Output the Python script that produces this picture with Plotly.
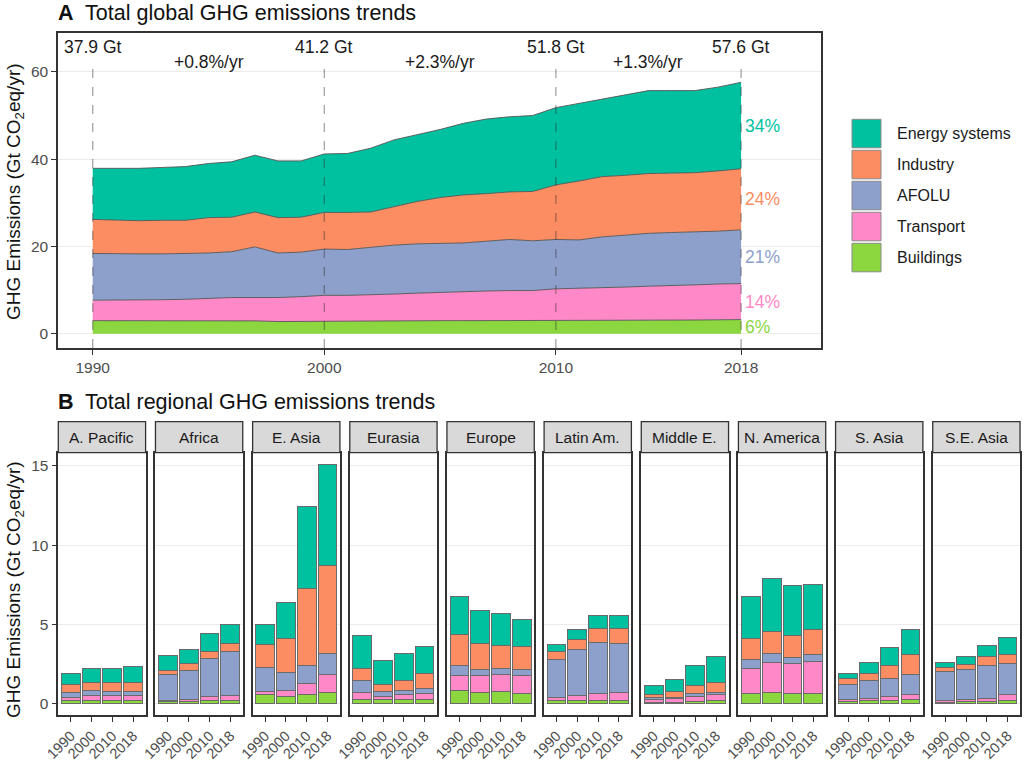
import plotly.graph_objects as go

# ---------------- DATA ----------------
years = list(range(1990, 2019))

buildings = [3.0, 3.0, 2.95, 2.95, 2.9, 2.9, 2.95, 2.95, 2.8, 2.85, 2.9, 2.9, 2.9, 2.95, 3.0,
             3.0, 3.0, 3.0, 3.0, 3.0, 3.05, 3.05, 3.05, 3.1, 3.1, 3.15, 3.15, 3.2, 3.25]
transport = [4.7, 4.7, 4.75, 4.85, 5.0, 5.2, 5.35, 5.35, 5.5, 5.65, 5.9, 5.9, 6.0, 6.15, 6.3,
             6.5, 6.6, 6.8, 6.9, 6.9, 7.25, 7.35, 7.45, 7.6, 7.8, 7.85, 8.05, 8.2, 8.25]
afolu = [10.7, 10.6, 10.6, 10.5, 10.5, 10.4, 10.5, 11.6, 10.2, 10.2, 10.6, 10.5, 10.9, 11.2, 11.3,
         11.2, 11.2, 11.4, 11.7, 11.4, 11.3, 11.1, 11.7, 11.9, 12.1, 12.2, 12.1, 12.1, 12.3]
industry = [7.8, 7.7, 7.6, 7.7, 7.6, 8.1, 7.9, 8.0, 8.1, 8.0, 8.4, 8.5, 8.1, 8.8, 9.7,
            10.5, 11.0, 10.9, 10.9, 11.3, 12.5, 13.5, 13.8, 13.7, 13.7, 13.6, 13.6, 13.8, 14.0]
energy = [11.7, 11.9, 12.0, 12.1, 12.3, 12.4, 12.7, 13.0, 13.0, 12.9, 13.4, 13.5, 14.6, 15.3, 15.3,
          15.6, 16.4, 17.1, 17.2, 17.4, 17.7, 17.8, 17.8, 18.5, 19.0, 18.9, 18.8, 19.2, 19.8]

milestone_years = [1990, 2000, 2010, 2018]

sector_names = ["Energy systems", "Industry", "AFOLU", "Transport", "Buildings"]
sector_colors = ["#00C19F", "#FC8D62", "#8DA0CB", "#FF88C8", "#8CD640"]

regions = ["A. Pacific", "Africa", "E. Asia", "Eurasia", "Europe", "Latin Am.",
           "Middle E.", "N. America", "S. Asia", "S.E. Asia"]
bar_years = ["1990", "2000", "2010", "2018"]

reg_buildings = {
    "A. Pacific": [0.15, 0.18, 0.17, 0.17], "Africa": [0.1, 0.1, 0.15, 0.2],
    "E. Asia": [0.57, 0.42, 0.53, 0.7], "Eurasia": [0.27, 0.21, 0.21, 0.25],
    "Europe": [0.78, 0.7, 0.74, 0.63], "Latin Am.": [0.15, 0.15, 0.17, 0.17],
    "Middle E.": [0.07, 0.08, 0.12, 0.15], "N. America": [0.63, 0.7, 0.63, 0.63],
    "S. Asia": [0.1, 0.15, 0.17, 0.25], "S.E. Asia": [0.08, 0.1, 0.1, 0.15]}
reg_transport = {
    "A. Pacific": [0.22, 0.33, 0.3, 0.3], "Africa": [0.1, 0.15, 0.25, 0.3],
    "E. Asia": [0.2, 0.36, 0.73, 1.13], "Eurasia": [0.4, 0.25, 0.32, 0.34],
    "Europe": [0.95, 1.05, 1.05, 1.12], "Latin Am.": [0.21, 0.33, 0.46, 0.53],
    "Middle E.": [0.14, 0.2, 0.33, 0.42], "N. America": [1.58, 1.87, 1.86, 2.0],
    "S. Asia": [0.11, 0.17, 0.25, 0.32], "S.E. Asia": [0.09, 0.17, 0.22, 0.38]}
reg_afolu = {
    "A. Pacific": [0.3, 0.33, 0.3, 0.3], "Africa": [1.6, 1.85, 2.45, 2.75],
    "E. Asia": [1.48, 1.18, 1.1, 1.33], "Eurasia": [0.76, 0.28, 0.25, 0.32],
    "Europe": [0.63, 0.36, 0.38, 0.36], "Latin Am.": [2.38, 2.89, 3.23, 3.09],
    "Middle E.": [0.15, 0.1, 0.15, 0.13], "N. America": [0.53, 0.59, 0.4, 0.47],
    "S. Asia": [0.99, 1.11, 1.12, 1.26], "S.E. Asia": [1.87, 1.84, 2.1, 1.96]}
reg_industry = {
    "A. Pacific": [0.5, 0.5, 0.55, 0.55], "Africa": [0.3, 0.4, 0.45, 0.55],
    "E. Asia": [1.48, 2.15, 4.91, 5.58], "Eurasia": [0.78, 0.46, 0.65, 0.99],
    "Europe": [2.0, 1.68, 1.48, 1.47], "Latin Am.": [0.53, 0.68, 0.88, 0.95],
    "Middle E.": [0.17, 0.36, 0.51, 0.61], "N. America": [1.33, 1.37, 1.37, 1.58],
    "S. Asia": [0.34, 0.47, 0.88, 1.23], "S.E. Asia": [0.24, 0.36, 0.53, 0.61]}
reg_energy = {
    "A. Pacific": [0.73, 0.84, 0.9, 0.98], "Africa": [0.9, 0.9, 1.1, 1.15],
    "E. Asia": [1.26, 2.25, 5.2, 6.33], "Eurasia": [2.05, 1.48, 1.69, 1.72],
    "Europe": [2.42, 2.07, 2.0, 1.73], "Latin Am.": [0.46, 0.63, 0.78, 0.84],
    "Middle E.": [0.61, 0.78, 1.25, 1.62], "N. America": [2.71, 3.33, 3.16, 2.84],
    "S. Asia": [0.36, 0.69, 1.1, 1.62], "S.E. Asia": [0.31, 0.48, 0.7, 1.05]}

# ---------------- HELPERS ----------------
W, H = 1024, 761
def px(x): return x / W
def py(y): return 1 - y / H

FONT = "Liberation Sans, Arial, sans-serif"
TICK_COLOR = "#4D4D4D"
FRAME = "#333333"
color_of = dict(zip(sector_names, sector_colors))

global_series = {"Energy systems": energy, "Industry": industry, "AFOLU": afolu,
                 "Transport": transport, "Buildings": buildings}
regional_series = {"Energy systems": reg_energy, "Industry": reg_industry, "AFOLU": reg_afolu,
                   "Transport": reg_transport, "Buildings": reg_buildings}
stack_order = list(reversed(sector_names))  # bottom -> top

fig = go.Figure()

# ---------------- PANEL A: stacked areas ----------------
for name in stack_order:
    fig.add_trace(go.Scatter(
        x=years, y=global_series[name], stackgroup="g", mode="lines",
        line=dict(color="#555555", width=0.9), fillcolor=color_of[name],
        xaxis="x", yaxis="y", showlegend=False, hoverinfo="skip"))

totals = [round(sum(global_series[n][i] for n in sector_names), 1) for i in range(len(years))]
YMIN_A, YMAX_A = -3.26, 68.9

shapes = []
annotations = []
for yr in milestone_years:
    shapes.append(dict(type="line", xref="x", yref="y", x0=yr, x1=yr, y0=YMIN_A, y1=62.5,
                       line=dict(color="rgba(40,40,40,0.45)", width=1.2, dash="dash"), layer="above"))
    annotations.append(dict(x=yr, y=65.6, xref="x", yref="y", text=f"{totals[years.index(yr)]:.1f} Gt",
                            showarrow=False, font=dict(size=17.5, color="#1A1A1A"), xanchor="center", yanchor="middle"))
for a, b in zip(milestone_years[:-1], milestone_years[1:]):
    ta, tb = totals[years.index(a)], totals[years.index(b)]
    rate = ((tb / ta) ** (1 / (b - a)) - 1) * 100
    annotations.append(dict(x=(a + b) / 2, y=62.3, xref="x", yref="y", text=f"+{rate:.1f}%/yr",
                            showarrow=False, font=dict(size=17.5, color="#1A1A1A"), xanchor="center", yanchor="middle"))

# share labels at the last year
last = len(years) - 1
cum = 0.0
for name in stack_order:
    v = global_series[name][last]
    share = v / totals[last] * 100
    annotations.append(dict(x=years[last] + 0.1, y=cum + v / 2, xref="x", yref="y",
                            text=f"{share:.0f}%", showarrow=False, xanchor="left", yanchor="middle",
                            font=dict(size=17.5, color=color_of[name])))
    cum += v

# ---------------- PANEL B: regional stacked bars ----------------
PANEL_L0, PANEL_STEP, PANEL_W = 58.3, 97.16, 87.3
B_TOP, B_BOT, STRIP_TOP = 452.7, 715.0, 421.7
for i, reg in enumerate(regions):
    ax = i + 2
    for name in stack_order:
        fig.add_trace(go.Bar(
            x=bar_years, y=regional_series[name][reg], width=0.9,
            marker=dict(color=color_of[name], line=dict(color="#6A6A6A", width=1)),
            xaxis=f"x{ax}", yaxis=f"y{ax}", showlegend=False, hoverinfo="skip"))

layout_axes = {}
layout_axes["xaxis"] = dict(
    domain=[px(58), px(821)], range=[1988.5, 2021.45], tickvals=milestone_years,
    ticks="outside", ticklen=5, tickcolor=FRAME, tickwidth=1.2, showline=True, linecolor=FRAME,
    linewidth=1.5, mirror=True, showgrid=False, zeroline=False, anchor="y", automargin=False,
    tickfont=dict(size=15.5, color=TICK_COLOR, family=FONT))
layout_axes["yaxis"] = dict(
    domain=[py(348), py(33)], range=[YMIN_A, YMAX_A], tickvals=[0, 20, 40, 60],
    ticks="outside", ticklen=5, tickcolor=FRAME, tickwidth=1.2, showline=True, linecolor=FRAME,
    linewidth=1.5, mirror=True, showgrid=True, gridcolor="#EBEBEB", gridwidth=1, zeroline=False,
    anchor="x", automargin=False, tickfont=dict(size=15.5, color=TICK_COLOR, family=FONT))

for i, reg in enumerate(regions):
    ax = i + 2
    l = PANEL_L0 + PANEL_STEP * i
    r = l + PANEL_W
    layout_axes[f"xaxis{ax}"] = dict(
        domain=[px(l), px(r)], type="category", range=[-0.6, 3.6], anchor=f"y{ax}",
        ticks="outside", ticklen=5, tickcolor=FRAME, tickwidth=1.2, showline=True, linecolor=FRAME,
        linewidth=1.5, mirror=True, showgrid=False, zeroline=False, tickangle=-45, automargin=False,
        tickfont=dict(size=14.5, color=TICK_COLOR, family=FONT))
    layout_axes[f"yaxis{ax}"] = dict(
        domain=[py(B_BOT), py(B_TOP)], range=[-0.74, 15.84], tickvals=[0, 5, 10, 15], anchor=f"x{ax}",
        ticks="outside" if i == 0 else "", ticklen=5, tickcolor=FRAME, tickwidth=1.2,
        showticklabels=(i == 0), showline=True, linecolor=FRAME, linewidth=1.5, mirror=True,
        showgrid=True, gridcolor="#EBEBEB", gridwidth=1, zeroline=False, automargin=False,
        tickfont=dict(size=15.5, color=TICK_COLOR, family=FONT))
    shapes.append(dict(type="rect", xref="paper", yref="paper", x0=px(l), x1=px(r),
                       y0=py(B_TOP), y1=py(STRIP_TOP), fillcolor="#D9D9D9",
                       line=dict(color=FRAME, width=1.3), layer="above"))
    annotations.append(dict(x=px((l + r) / 2), y=py((B_TOP + STRIP_TOP) / 2), xref="paper", yref="paper",
                            text=reg, showarrow=False, xanchor="center", yanchor="middle",
                            font=dict(size=15.5, color="#1A1A1A")))

# ---------------- Legend (manual) ----------------
for k, name in enumerate(sector_names):
    top = 119.3 + 31 * k
    shapes.append(dict(type="rect", xref="paper", yref="paper", x0=px(852), x1=px(881),
                       y0=py(top + 28.5), y1=py(top), fillcolor=color_of[name],
                       line=dict(color="#8A8A8A", width=1)))
    annotations.append(dict(x=px(895), y=py(top + 14.2), xref="paper", yref="paper", text=name,
                            showarrow=False, xanchor="left", yanchor="middle",
                            font=dict(size=16, color="#1A1A1A")))

# ---------------- Titles ----------------
annotations.append(dict(x=px(56), y=py(13), xref="paper", yref="paper",
                        text="<b>A</b>  Total global GHG emissions trends", showarrow=False,
                        xanchor="left", yanchor="middle", font=dict(size=21.5, color="#111111")))
annotations.append(dict(x=px(56), y=py(402), xref="paper", yref="paper",
                        text="<b>B</b>  Total regional GHG emissions trends", showarrow=False,
                        xanchor="left", yanchor="middle", font=dict(size=21.5, color="#111111")))
ytitle = "GHG Emissions (Gt CO<sub>2</sub>eq/yr)"
annotations.append(dict(x=px(15), y=py(192), xref="paper", yref="paper", text=ytitle, textangle=-90,
                        showarrow=False, xanchor="center", yanchor="middle",
                        font=dict(size=19, color="#111111")))
annotations.append(dict(x=px(15), y=py(590), xref="paper", yref="paper", text=ytitle, textangle=-90,
                        showarrow=False, xanchor="center", yanchor="middle",
                        font=dict(size=19, color="#111111")))

fig.update_layout(
    template="none", width=W, height=H, autosize=False,
    margin=dict(l=0, r=0, t=0, b=0, pad=0),
    paper_bgcolor="white", plot_bgcolor="white",
    font=dict(family=FONT, color="#1A1A1A"),
    barmode="stack", bargap=0.1, showlegend=False,
    shapes=shapes, annotations=annotations, **layout_axes)

fig.write_html("out.html", config={"displayModeBar": False},
               post_script="document.body.style.margin='0';document.body.style.overflow='hidden';")
